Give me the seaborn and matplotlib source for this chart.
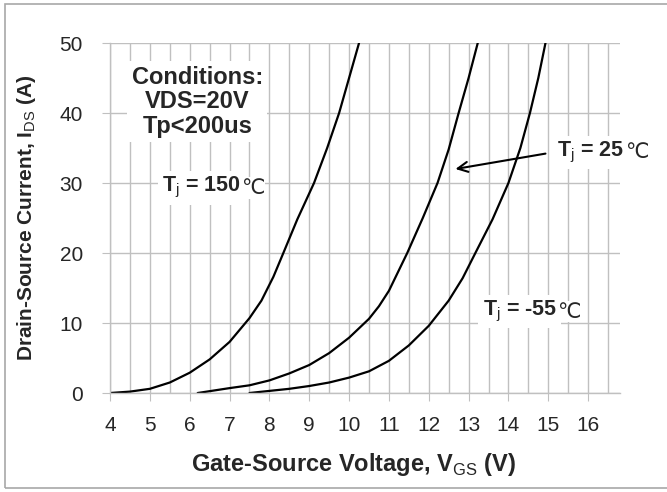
import matplotlib
matplotlib.use("Agg")
import matplotlib.pyplot as plt
import seaborn as sns
import pandas as pd
from matplotlib.ticker import MultipleLocator
from matplotlib.patches import Rectangle

# transfer characteristics
vgs150 = [4.0, 4.5, 5.0, 5.5, 6.0, 6.5, 7.0, 7.5, 7.8, 8.1, 8.35, 8.7, 9.12, 9.45, 9.75, 10.0, 10.25]
ids150 = [0.0, 0.2, 0.6, 1.5, 2.9, 4.8, 7.3, 10.7, 13.2, 16.6, 20.0, 24.8, 30.0, 35.0, 40.0, 45.0, 50.0]

vgs25 = [6.2, 7.0, 7.5, 8.0, 8.5, 9.0, 9.5, 10.0, 10.5, 10.75, 11.0, 11.46, 11.85, 12.22, 12.5, 12.75, 13.0, 13.23]
ids25 = [0.0, 0.7, 1.1, 1.8, 2.8, 4.0, 5.7, 7.9, 10.6, 12.4, 14.6, 20.0, 25.0, 30.0, 34.8, 40.0, 45.0, 50.0]

vgsm55 = [7.5, 8.0, 8.5, 9.0, 9.5, 10.0, 10.5, 11.0, 11.5, 12.0, 12.5, 12.85, 13.17, 13.6, 14.0, 14.3, 14.54, 14.75, 14.93]
idsm55 = [0.0, 0.3, 0.6, 1.0, 1.5, 2.2, 3.1, 4.6, 6.8, 9.6, 13.2, 16.4, 20.0, 24.8, 30.0, 35.0, 40.0, 45.0, 50.0]

x_ticks = list(range(4, 17))
y_ticks = [0, 10, 20, 30, 40, 50]

temp_labels = ["150", "25", "-55"]

sns.set_style("white")
plt.rcParams['font.family'] = ['Liberation Sans', 'DejaVu Sans']
plt.rcParams['mathtext.fontset'] = 'custom'
plt.rcParams['mathtext.rm'] = 'Liberation Sans'
plt.rcParams['mathtext.bf'] = 'Liberation Sans:bold'

fig = plt.figure(figsize=(6.67, 4.92), dpi=100)
ax = fig.add_axes([0.165, 0.2012, 0.7645, 0.7114])

grid_col = "#c0c0c0"
for xs, ys in [(vgs150, ids150), (vgs25, ids25), (vgsm55, idsm55)]:
    df = pd.DataFrame({"vgs": xs, "ids": ys})
    sns.lineplot(data=df, x="vgs", y="ids", ax=ax, color="black", lw=1.6, sort=False)

ax.set_xlim(4, 16.8)
ax.set_ylim(0, 50)
ax.set_xticks(x_ticks)
ax.set_yticks(y_ticks)
ax.xaxis.set_minor_locator(MultipleLocator(0.5))
ax.grid(True, which="both", axis="x", color=grid_col, lw=1)
ax.grid(True, which="major", axis="y", color=grid_col, lw=1)
ax.set_axisbelow(True)
for s in ["top", "right"]:
    ax.spines[s].set_visible(False)
for s in ["left", "bottom"]:
    ax.spines[s].set_color(grid_col)
    ax.spines[s].set_linewidth(1)
ax.tick_params(axis="both", which="major", length=5.5, color=grid_col, direction="out",
               labelsize=15, left=True, bottom=True)
ax.tick_params(axis="x", which="major", pad=11)
ax.tick_params(axis="y", which="major", pad=14)
ax.tick_params(axis="x", which="minor", length=0)

ax.set_xlabel("Gate-Source Voltage, V$_{\\mathrm{GS}}$ (V)", fontsize=17, fontweight="bold")
ax.set_ylabel("Drain-Source Current, I$_{\\mathrm{DS}}$ (A)", fontsize=15, fontweight="bold")
ax.xaxis.set_label_coords(0.478, -0.165)
ax.yaxis.set_label_coords(-0.141, 0.5)

box = dict(facecolor="white", edgecolor="none", pad=3)
ax.text(6.19, 41.6, "Conditions:\nVDS=20V\nTp<200us", ha="center", va="center", fontsize=17,
        fontweight="bold", linespacing=1.1, bbox=box)


def temp_label(x, y, t):
    main = ax.text(x, y, "T$_\\mathrm{j}$ = " + t, ha="left", va="center", fontsize=15.5,
                   fontweight="bold", bbox=box)
    ax.annotate("℃", xy=(1, 0.5), xycoords=main, xytext=(0, 0), textcoords="offset points",
                ha="left", va="center", fontsize=15, family="DejaVu Sans",
                bbox=dict(facecolor="white", edgecolor="none", pad=0.5))


temp_label(5.31, 29.3, temp_labels[0])
temp_label(15.23, 34.4, temp_labels[1])
temp_label(13.35, 11.6, temp_labels[2])

ax.annotate("", xy=(12.67, 32.0), xytext=(14.93, 34.2),
            arrowprops=dict(arrowstyle="->", color="black", lw=1.5, mutation_scale=18,
                            shrinkA=0, shrinkB=0))

fig.patches.append(Rectangle((5 / 667, 4 / 492), 1.2, 484 / 492, transform=fig.transFigure,
                             fill=False, edgecolor="#a8a8a8", lw=1.2))

fig.savefig("out.png", dpi=100)
